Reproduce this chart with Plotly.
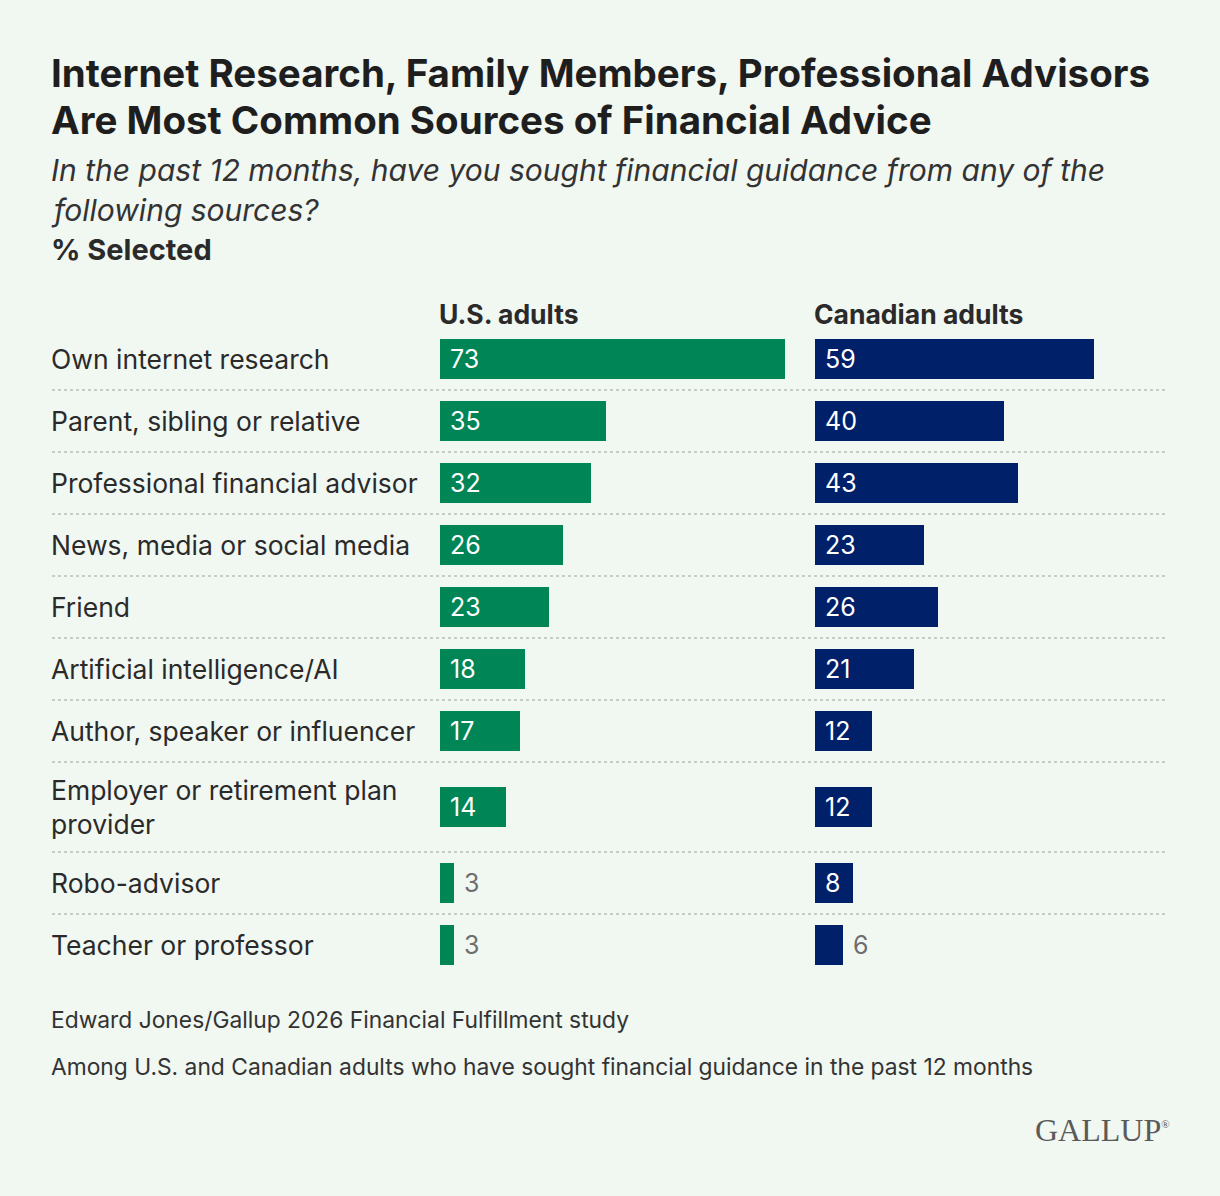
import plotly.graph_objects as go

# data
sources = [
    "Own internet research",
    "Parent, sibling or relative",
    "Professional financial advisor",
    "News, media or social media",
    "Friend",
    "Artificial intelligence/AI",
    "Author, speaker or influencer",
    "Employer or retirement plan<br>provider",
    "Robo-advisor",
    "Teacher or professor",
]
us_adults = [73, 35, 32, 26, 23, 18, 17, 14, 3, 3]
canadian_adults = [59, 40, 43, 23, 26, 21, 12, 12, 8, 6]
panel_titles = ["U.S. adults", "Canadian adults"]

title_lines = ["Internet Research, Family Members, Professional Advisors",
               "Are Most Common Sources of Financial Advice"]
subtitle_lines = ["In the past 12 months, have you sought financial guidance from any of the",
                  "following sources?"]
footnotes = ["Edward Jones/Gallup 2026 Financial Fulfillment study",
             "Among U.S. and Canadian adults who have sought financial guidance in the past 12 months"]

W, H = 1220, 1196
BG = "#f1f7f1"
GREEN = "#008556"
NAVY = "#01206a"
FONT = "Inter"
LEFT = 49  # annotation x (they add ~3px padding)


def px(x):
    return x / W


def py(y):
    return 1 - y / H


# row heights in pixels: two-line labels get a taller row
row_h = [90 if "<br>" in s else 62 for s in sources]
centers = []
top = 0
for h in row_h:
    centers.append(top + h / 2)
    top += h
chart_top = 328
chart_bottom = chart_top + top

fig = go.Figure()

for i, (vals, col) in enumerate([(us_adults, GREEN), (canadian_adults, NAVY)]):
    xa = "x" if i == 0 else "x2"
    pos = ["inside" if v >= 8 else "outside" for v in vals]
    fig.add_trace(go.Bar(
        x=vals, y=centers, orientation="h", width=40,
        marker=dict(color=col, line=dict(width=0)),
        text=vals, texttemplate=" %{x}", textposition=pos,
        insidetextanchor="start",
        insidetextfont=dict(color="white", size=25, family=FONT),
        outsidetextfont=dict(color="#6e6e6e", size=25, family=FONT),
        constraintext="none", cliponaxis=False,
        xaxis=xa, yaxis="y", hoverinfo="skip", showlegend=False,
    ))

fig.update_layout(
    width=W, height=H,
    margin=dict(l=0, r=0, t=0, b=0),
    paper_bgcolor=BG, plot_bgcolor=BG,
    font=dict(family=FONT, color="#222222"),
    bargap=0,
    xaxis=dict(domain=[px(440), px(790)], range=[0, 74], visible=False, fixedrange=True),
    xaxis2=dict(domain=[px(815), px(1165)], range=[0, 74], visible=False, fixedrange=True, anchor="y"),
    yaxis=dict(domain=[py(chart_bottom), py(chart_top)], range=[top, 0], visible=False, fixedrange=True),
)

# dotted separators between rows
b = 0
for h in row_h[:-1]:
    b += h
    fig.add_shape(type="line", xref="paper", yref="y", x0=px(52), x1=px(1168), y0=b, y1=b,
                  line=dict(color="#c9cdc9", width=2, dash="dot"))

ann = []


def label(text, x, y, size, color="#2a2a2a", **kw):
    d = dict(text=text, x=px(x), y=py(y), xref="paper", yref="paper", xanchor="left",
             yanchor="middle", showarrow=False, align="left", font=dict(size=size, color=color))
    d.update(kw)
    ann.append(d)


# category labels
for s, c in zip(sources, centers):
    ann.append(dict(text=s, x=px(LEFT), y=c, xref="paper", yref="y", xanchor="left", yanchor="middle",
                    showarrow=False, align="left", font=dict(size=26.5, color="#2a2a2a")))

# panel headers
for t, x0 in zip(panel_titles, [437, 812]):
    label("<b>" + t + "</b>", x0, 314, 26.5)

# titles
for t, y in zip(title_lines, [73, 120]):
    label("<b>" + t + "</b>", LEFT, y, 38.5, "#1e1e1e")
for t, y in zip(subtitle_lines, [170, 210]):
    label("<i>" + t + "</i>", LEFT, y, 30, "#333333")
label("<b>% Selected</b>", LEFT, 249, 29)

# footer
for t, y in zip(footnotes, [1019, 1066]):
    label(t, LEFT, y, 22.8, "#333333")
label("GALLUP<sup><span style='font-size:11px'>®</span></sup>", 1172, 1130, 32, "#5a5a5a",
      xanchor="right")
ann[-1]["font"]["family"] = "Liberation Serif"

fig.update_layout(annotations=ann)

fig.write_html("out.html", config={"displayModeBar": False},
               post_script="document.body.style.margin='0';")
